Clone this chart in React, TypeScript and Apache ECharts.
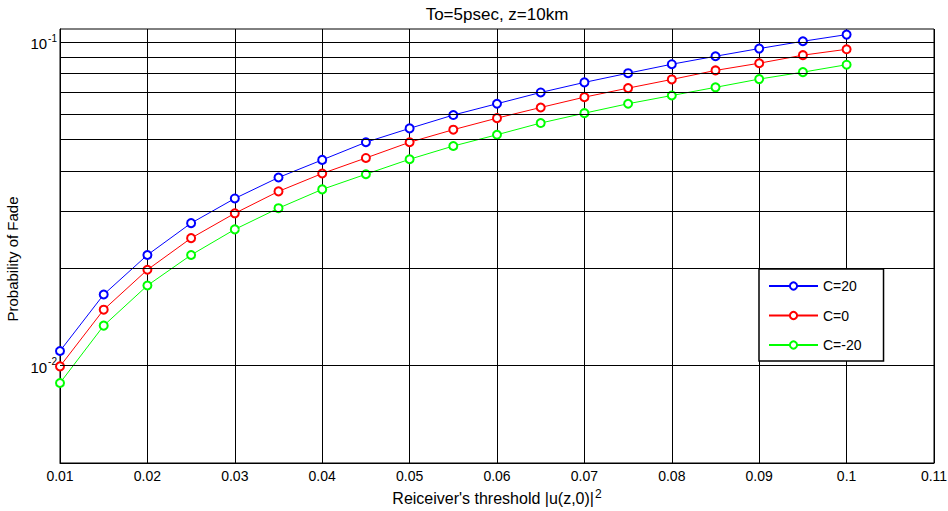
import React, { useEffect, useRef } from "react";
import * as echarts from "echarts";

const thresholds = [0.01, 0.015, 0.02, 0.025, 0.03, 0.035, 0.04, 0.045, 0.05, 0.055, 0.06, 0.065, 0.07, 0.075, 0.08, 0.085, 0.09, 0.095, 0.1];
const fadeC20 = [0.0111, 0.0166, 0.0220, 0.0276, 0.0329, 0.0382, 0.0433, 0.0491, 0.0542, 0.0596, 0.0646, 0.0700, 0.0752, 0.0803, 0.0856, 0.0906, 0.0957, 0.1008, 0.1057];
const fadeC0 = [0.00995, 0.0149, 0.0198, 0.0248, 0.0296, 0.0346, 0.0393, 0.0439, 0.0491, 0.0537, 0.0583, 0.0629, 0.0677, 0.0722, 0.0768, 0.0819, 0.0862, 0.0913, 0.0952];
const fadeCm20 = [0.00884, 0.0133, 0.0177, 0.0220, 0.0264, 0.0307, 0.0351, 0.0391, 0.0435, 0.0478, 0.0518, 0.0563, 0.0604, 0.0646, 0.0685, 0.0726, 0.0770, 0.0809, 0.0853];
const seriesNames = ["C=20", "C=0", "C=-20"];
const yGridValues = [0.006, 0.007, 0.008, 0.009, 0.01, 0.02, 0.03, 0.04, 0.05, 0.06, 0.07, 0.08, 0.09, 0.1];
const titleText = "To=5psec, z=10km";
const yName = "Probability of Fade";

const FONT = "'Liberation Sans', Arial, Helvetica, sans-serif";

export default function App() {
  const ref = useRef<HTMLDivElement>(null);
  useEffect(() => {
    if (!ref.current) return;
    const chart = echarts.init(ref.current, undefined, { renderer: "svg" });
    const mk = (vals: number[]) => thresholds.map((x, i) => [x, vals[i]]);
    const lineSeries = (name: string, color: string, vals: number[]) => ({
      name,
      type: "line",
      data: mk(vals),
      symbol: "emptyCircle",
      symbolSize: 8,
      color,
      lineStyle: { color, width: 1 },
      itemStyle: { color, borderColor: color, borderWidth: 1 },
      z: 3,
    });
    chart.setOption({
      animation: false,
      textStyle: { fontFamily: FONT },
      title: {
        text: `{t|${titleText}}`,
        left: 492,
        top: 0,
        textAlign: "center",
        textStyle: {
          fontSize: 17,
          fontWeight: "normal",
          color: "#000",
          fontFamily: FONT,
          rich: { t: { fontSize: 17, fontFamily: FONT, color: "#000", lineHeight: 18 } },
        },
      },
      grid: {
        left: 60,
        right: 14,
        top: 29,
        bottom: 48,
        show: true,
        borderColor: "#000",
        borderWidth: 1,
        backgroundColor: "#fff",
        outerBoundsMode: "none",
        containLabel: false,
      },
      legend: {
        data: seriesNames,
        orient: "vertical",
        left: 759,
        top: 269,
        itemWidth: 49,
        itemHeight: 9,
        itemGap: 15.5,
        padding: [10, 22, 9, 9],
        backgroundColor: "#fff",
        borderColor: "#000",
        borderWidth: 1.5,
        borderRadius: 0,
        textStyle: { fontSize: 14, color: "#000", fontFamily: FONT },
      },
      xAxis: {
        type: "value",
        min: 0.01,
        max: 0.11,
        interval: 0.01,
        name: "{a|Reiceiver's threshold |u(z,0)|}{s|2}",
        nameLocation: "middle",
        nameGap: 19,
        nameTextStyle: {
          color: "#000",
          rich: {
            a: { fontSize: 16, fontFamily: FONT, color: "#000", lineHeight: 19, verticalAlign: "bottom" },
            s: { fontSize: 12, fontFamily: FONT, color: "#000", lineHeight: 19, verticalAlign: "top", padding: [0, 0, 6, 1] },
          },
        },
        axisLine: { show: true, lineStyle: { color: "#000", width: 1 } },
        axisTick: { show: true, inside: true, length: 4, lineStyle: { color: "#000" } },
        axisLabel: { color: "#000", fontSize: 14, margin: 6, fontFamily: FONT },
        splitLine: { show: true, lineStyle: { color: "#000", width: 1 } },
      },
      yAxis: {
        type: "log",
        logBase: 10,
        min: 0.005,
        max: 0.11,
        name: `{n|${yName}}`,
        nameLocation: "middle",
        nameGap: 34,
        nameTextStyle: {
          color: "#000",
          fontSize: 15,
          fontFamily: FONT,
          padding: [0, 26, 0, 0],
          rich: { n: { fontSize: 15, fontFamily: FONT, color: "#000", lineHeight: 17 } },
        },
        axisLine: { show: true, lineStyle: { color: "#000", width: 1 } },
        axisTick: { show: false },
        splitLine: { show: false },
        axisLabel: {
          margin: 3,
          formatter: (v: number) => {
            const l = Math.log10(v);
            if (Math.abs(l - Math.round(l)) < 1e-6) return `{b|10}{s|${Math.round(l)}}`;
            return "";
          },
          rich: {
            b: { fontSize: 15, fontFamily: FONT, color: "#000", lineHeight: 18, verticalAlign: "bottom" },
            s: { fontSize: 10, fontFamily: FONT, color: "#000", lineHeight: 18, verticalAlign: "top", padding: [0, 0, 0, 1] },
          },
        },
      },
      series: [
        {
          name: "grid",
          type: "line",
          data: [],
          z: 1,
          silent: true,
          markLine: {
            silent: true,
            symbol: ["none", "none"],
            label: { show: false },
            lineStyle: { color: "#000", width: 1, type: "solid" },
            emphasis: { disabled: true },
            data: yGridValues.map((v) => ({ yAxis: v })),
          },
        },
        lineSeries(seriesNames[0], "#0000ff", fadeC20),
        lineSeries(seriesNames[1], "#ff0000", fadeC0),
        lineSeries(seriesNames[2], "#00ff00", fadeCm20),
      ],
    });
    return () => chart.dispose();
  }, []);
  return <div ref={ref} style={{ position: "fixed", left: 0, top: 0, width: 948, height: 511, background: "#fff" }} />;
}
